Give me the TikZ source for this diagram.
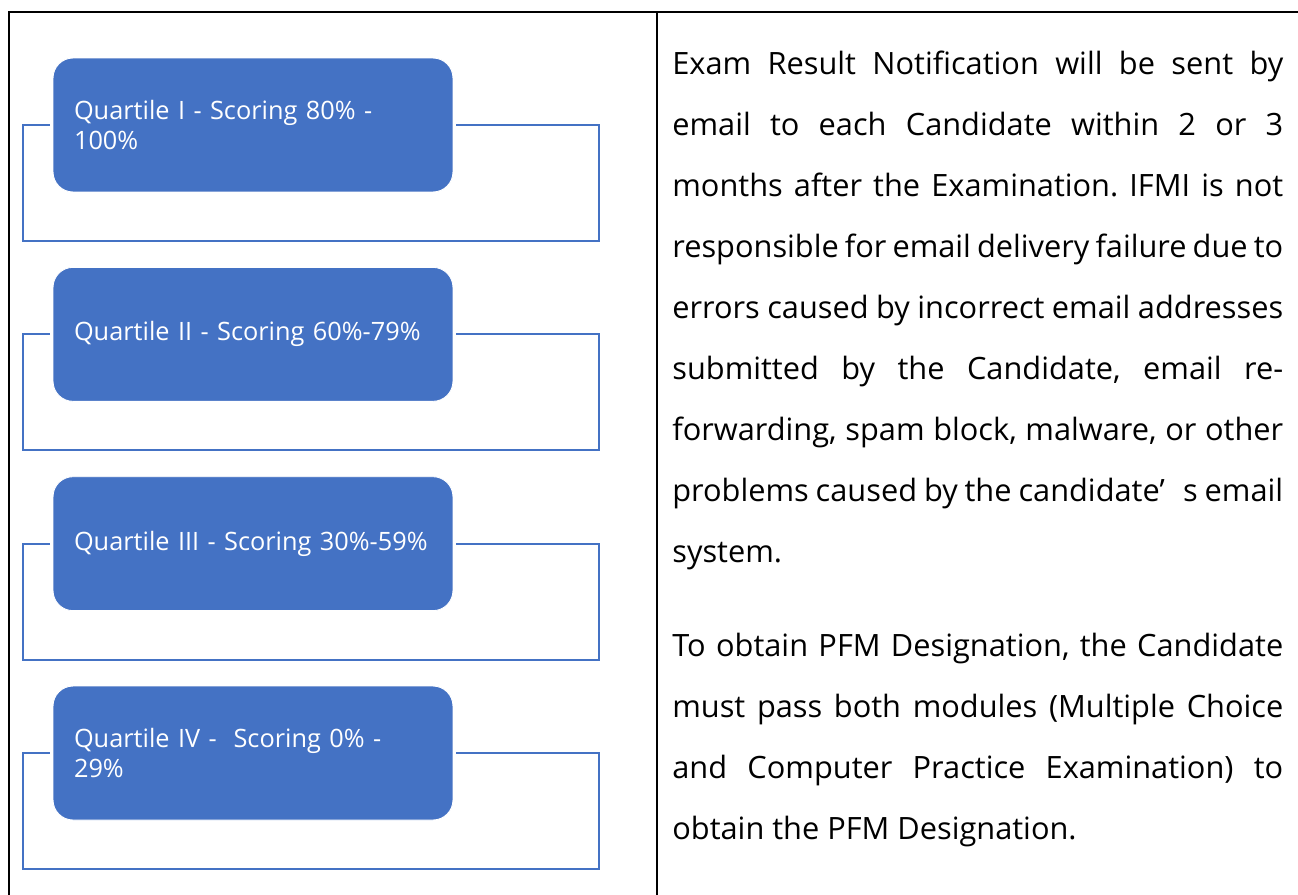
\documentclass[tikz,border=0pt]{standalone}
\usepackage{fontspec}
\setmainfont{Open Sans}
\usetikzlibrary{positioning}
\definecolor{qblue}{HTML}{4472C4}
\frenchspacing

\begin{document}
\begin{tikzpicture}[x=0.02cm, y=-0.02cm,
  node distance=1.49cm,
  qbox/.style={rectangle, rounded corners=0.4cm, fill=qblue, draw=white, line width=0.5pt,
              minimum width=8cm, minimum height=2.68cm, inner xsep=0.42cm,
              text width=7.16cm, align=left, text=white,
              font=\fontsize{14.4}{17.6}\selectfont},
  bracket/.style={qblue, line width=1.1pt},
  rule/.style={black, line width=1.1pt},
  para/.style={anchor=north west, inner sep=0pt, text width=12.22cm, align=justify,
              font=\fontsize{17.5}{34.7}\selectfont}]
  \useasboundingbox (0,0) rectangle (1298,895);
  % table frame
  \draw[rule] (8,12) -- (1298,12);
  \draw[rule] (9,12) -- (9,895);
  \draw[rule] (657,12) -- (657,895);
  % quartile boxes
  \node[qbox] (q1) at (253,125) {Quartile I - Scoring 80\% -\\100\%};
  \node[qbox, below=of q1] (q2) {Quartile II - Scoring 60\%-79\%};
  \node[qbox, below=of q2] (q3) {Quartile III - Scoring 30\%-59\%};
  \node[qbox, below=of q3] (q4) {Quartile IV -\ \ Scoring 0\% -\\29\%};
  \foreach \q in {q1,q2,q3,q4}
    \draw[bracket] ([xshift=-0.06cm]\q.west) -| ([xshift=-0.6cm,yshift=-2.32cm]\q.west)
      -| ([xshift=2.92cm]\q.east) -- ([xshift=0.06cm]\q.east);
  % notes
  \node[para] (note1) at (672,51) {Exam Result Notification will be sent by\linebreak
    email to each Candidate within 2 or 3\linebreak
    months after the Examination. IFMI is not\linebreak
    responsible for email delivery failure due to\linebreak
    errors caused by incorrect email addresses\linebreak
    submitted by the Candidate, email re-\linebreak
    forwarding, spam block, malware, or other\linebreak
    problems caused by the candidate’\hspace{0.6em}s email\linebreak
    system.};
  \node[para] (note2) at (672,633) {To obtain PFM Designation, the Candidate\linebreak
    must pass both modules (Multiple Choice\linebreak
    and Computer Practice Examination) to\linebreak
    obtain the PFM Designation.};
\end{tikzpicture}
\end{document}
